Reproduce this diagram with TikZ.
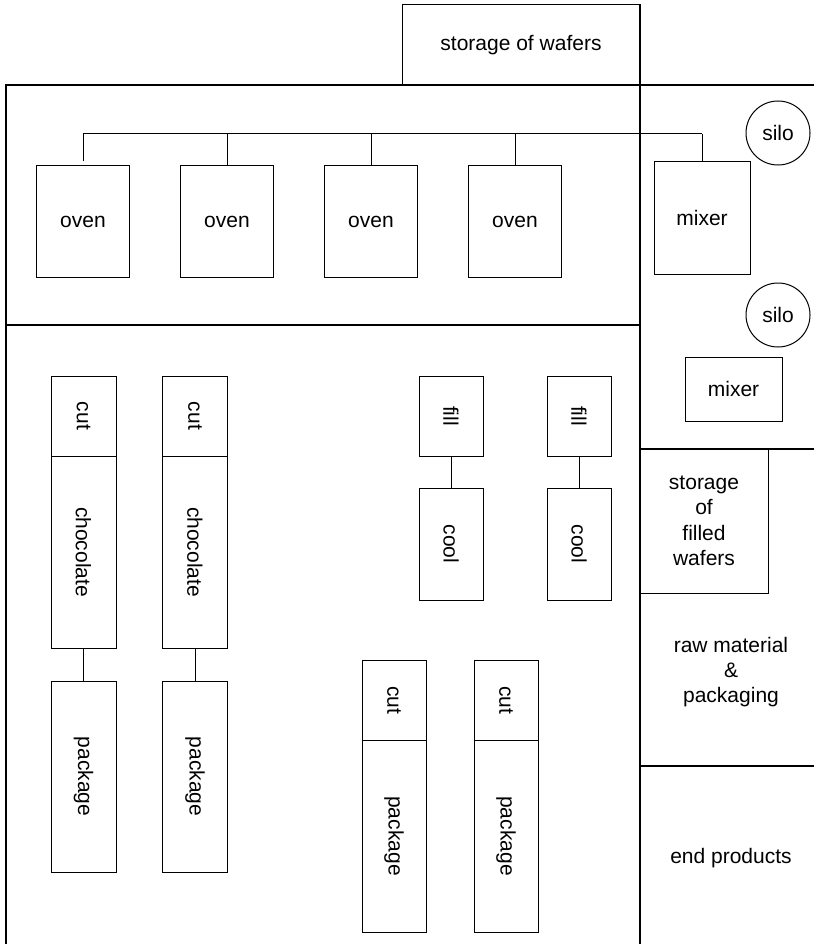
\documentclass[tikz,border=0pt]{standalone}
\usepackage{fontspec}
\setmainfont{Liberation Sans}
\begin{document}
\begin{tikzpicture}[x=1pt,y=-1pt,
  box/.style={draw,line width=1pt,inner sep=0pt,rectangle},
  wall/.style={line width=1.5pt},
  link/.style={line width=1pt},
  txt/.style={inner sep=0pt,align=center},
  silo/.style={draw,line width=1pt,circle,minimum size=64pt,inner sep=0pt},
  every node/.append style={font=\fontsize{21}{25.4}\selectfont}]
\useasboundingbox (0,0) rectangle (814,944);
% walls
\draw[wall] (6,944) -- (6,85) -- (814,85);
\draw[wall] (640,5) -- (640,944);
\draw[wall] (6,325) -- (640,325);
\draw[wall] (640,449) -- (814,449);
\draw[wall] (640,766) -- (814,766);
% storage of wafers
\node[box,minimum width=238pt,minimum height=80pt] (sw) at (521,45) {storage of wafers};
% ovens
\node[box,minimum width=93pt,minimum height=111pt] (ov1) at (83,221.5) {oven};
\node[box,minimum width=93pt,minimum height=111pt] (ov2) at (227,221.5) {oven};
\node[box,minimum width=93pt,minimum height=111pt] (ov3) at (371,221.5) {oven};
\node[box,minimum width=93pt,minimum height=111pt] (ov4) at (515,221.5) {oven};
\node[box,minimum width=96pt,minimum height=112pt] (mx1) at (702,218) {mixer};
\node[silo] (s1) at (778,133) {silo};
\node[silo] (s2) at (778,315) {silo};
\node[box,minimum width=97pt,minimum height=64pt] (mx2) at (733.5,389) {mixer};
% bus
\coordinate (bus) at (0,134);
\draw[link] (ov1.north |- bus) -- (mx1.north |- bus);
\draw[link] (ov1.north |- bus) -- ([yshift=4pt]ov1.north);
\draw[link] (ov2.north |- bus) -- (ov2.north);
\draw[link] (ov3.north |- bus) -- (ov3.north);
\draw[link] (ov4.north |- bus) -- (ov4.north);
\draw[link] (mx1.north |- bus) -- (mx1.north);
% right storage
\node[box,align=center,minimum width=128pt,minimum height=144pt] (sfw) at (704,521) {storage\\of\\filled\\wafers};
\node[txt] (raw) at (731,672) {raw material\\\&\\packaging};
\node[txt] (endp) at (731,858) {end products};
% chocolate lines
\node[box,minimum width=65pt,minimum height=80pt] (cut1) at (83.5,416) {\rotatebox{-90}{cut}};
\node[box,minimum width=65pt,minimum height=192pt] (ch1) at (83.5,552) {\rotatebox{-90}{chocolate}};
\node[box,minimum width=65pt,minimum height=191pt] (pk1) at (83.5,776.5) {\rotatebox{-90}{package}};
\node[box,minimum width=65pt,minimum height=80pt] (cut2) at (195,416) {\rotatebox{-90}{cut}};
\node[box,minimum width=65pt,minimum height=192pt] (ch2) at (195,552) {\rotatebox{-90}{chocolate}};
\node[box,minimum width=65pt,minimum height=191pt] (pk2) at (195,776.5) {\rotatebox{-90}{package}};
\draw[link] (ch1.south) -- (pk1.north);
\draw[link] (ch2.south) -- (pk2.north);
% fill / cool
\node[box,minimum width=64pt,minimum height=80pt] (fl1) at (451,416) {\rotatebox{-90}{fill}};
\node[box,minimum width=64pt,minimum height=112pt] (cl1) at (451,544) {\rotatebox{-90}{cool}};
\node[box,minimum width=64pt,minimum height=80pt] (fl2) at (579,416) {\rotatebox{-90}{fill}};
\node[box,minimum width=64pt,minimum height=112pt] (cl2) at (579,544) {\rotatebox{-90}{cool}};
\draw[link] (fl1.south) -- (cl1.north);
\draw[link] (fl2.south) -- (cl2.north);
% cut / package
\node[box,minimum width=64pt,minimum height=80pt] (cut3) at (394,700) {\rotatebox{-90}{cut}};
\node[box,minimum width=64pt,minimum height=192pt] (pk3) at (394,836) {\rotatebox{-90}{package}};
\node[box,minimum width=64pt,minimum height=80pt] (cut4) at (506,700) {\rotatebox{-90}{cut}};
\node[box,minimum width=64pt,minimum height=192pt] (pk4) at (506,836) {\rotatebox{-90}{package}};
\end{tikzpicture}
\end{document}
